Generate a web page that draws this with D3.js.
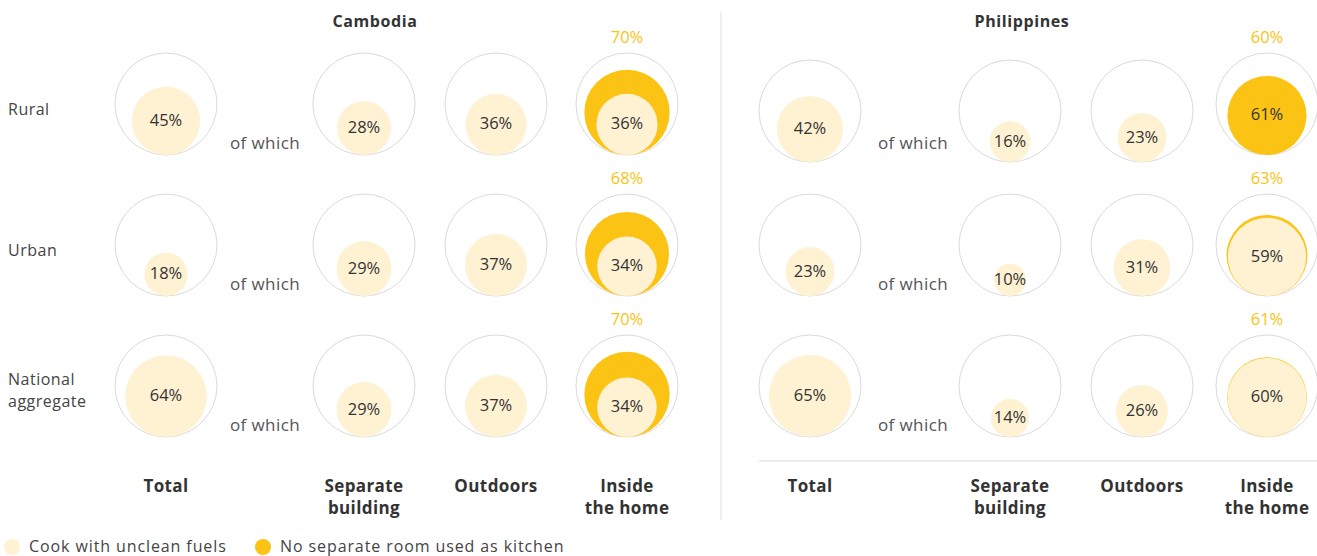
<!DOCTYPE html>
<html>
<head>
<meta charset="utf-8">
<script src="https://cdn.jsdelivr.net/npm/d3@7"></script>
<style>
  html, body { margin: 0; padding: 0; background: #fff; }
  svg { display: block; font-family: "Open Sans", "Noto Sans", sans-serif; }
</style>
</head>
<body>
<svg id="chart" width="1317" height="556"></svg>
<script>
// Share of households cooking with unclean fuels, by where cooking takes place
const rows = ["Rural", "Urban", "National aggregate"];
const columns = ["Total", "Separate building", "Outdoors", "Inside the home"];

const cambodiaTotal    = [45, 18, 64];
const cambodiaSeparate = [28, 29, 29];
const cambodiaOutdoors = [36, 37, 37];
const cambodiaInside   = [36, 34, 34];
const cambodiaNoRoom   = [70, 68, 70];

const philippinesTotal    = [42, 23, 65];
const philippinesSeparate = [16, 10, 14];
const philippinesOutdoors = [23, 31, 26];
const philippinesInside   = [61, 59, 60];
const philippinesNoRoom   = [60, 63, 61];

const legendItems = ["Cook with unclean fuels", "No separate room used as kitchen"];

const CREAM = "#fff2d3";
const YELLOW = "#fbc313";
const TEXT = "#333333";

const panels = [
  { name: "Cambodia", titleX: 375, colX: [166, 364, 496, 627], ofWhichX: 265,
    values: [cambodiaTotal, cambodiaSeparate, cambodiaOutdoors, cambodiaInside],
    noRoom: cambodiaNoRoom, firstRowShift: 0, baseline: false },
  { name: "Philippines", titleX: 1022, colX: [810, 1010, 1142, 1267], ofWhichX: 913,
    values: [philippinesTotal, philippinesSeparate, philippinesOutdoors, philippinesInside],
    noRoom: philippinesNoRoom, firstRowShift: 7, baseline: true }
];

const svg = d3.select("#chart");
const R = 51;
const r = d3.scaleSqrt().domain([0, 100]).range([0, R]);
const rowY = d3.scalePoint().domain(rows).range([104, 386]);
const fmt = v => v + "%";

// divider between the two countries
svg.append("line")
  .attr("x1", 721).attr("x2", 721).attr("y1", 12).attr("y2", 520)
  .attr("stroke", "#ebebeb").attr("stroke-width", 1.5);

// row labels
rows.forEach(row => {
  const words = row === "National aggregate" ? ["National", "aggregate"] : [row];
  const t = svg.append("text")
    .attr("x", 8)
    .attr("y", words.length > 1 ? rowY(row) - 1 : rowY(row) + 11)
    .attr("fill", "#444").style("font-size", "16px").style("letter-spacing", "0.5px");
  words.forEach((w, i) => {
    t.append("tspan").attr("x", 8).attr("dy", i === 0 ? 0 : 22).text(w);
  });
});

panels.forEach(p => {
  const g = svg.append("g");

  g.append("text")
    .attr("x", p.titleX).attr("y", 27)
    .attr("text-anchor", "middle")
    .attr("fill", TEXT).style("font-size", "16px").style("font-weight", 700)
    .style("letter-spacing", "0.6px")
    .text(p.name);

  rows.forEach((row, ri) => {
    const baseY = rowY(row);

    g.append("text")
      .attr("x", p.ofWhichX).attr("y", baseY + 45)
      .attr("text-anchor", "middle")
      .attr("fill", "#555").style("font-size", "17px").style("letter-spacing", "0.4px")
      .text("of which");

    columns.forEach((col, ci) => {
      const isInside = ci === 3;
      const cy = baseY + (ri === 0 && !isInside ? p.firstRowShift : 0);
      const cx = p.colX[ci];
      const bottom = cy + R;
      const v = p.values[ci][ri];

      g.append("circle")
        .attr("cx", cx).attr("cy", cy).attr("r", R)
        .attr("fill", "#fff").attr("stroke", "#dadada").attr("stroke-width", 1);

      const discs = [{ v: v, fill: CREAM }];
      if (isInside) discs.push({ v: p.noRoom[ri], fill: YELLOW });
      // larger disc underneath, smaller one on top
      discs.sort((a, b) => b.v - a.v);
      discs.forEach(d => {
        g.append("circle")
          .attr("cx", cx).attr("cy", bottom - r(d.v)).attr("r", r(d.v))
          .attr("fill", d.fill);
      });

      g.append("text")
        .attr("x", cx).attr("y", bottom - r(v) + 5)
        .attr("text-anchor", "middle")
        .attr("fill", TEXT).style("font-size", "16.5px")
        .text(fmt(v));

      if (isInside) {
        g.append("text")
          .attr("x", cx).attr("y", cy - R - 10)
          .attr("text-anchor", "middle")
          .attr("fill", YELLOW).style("font-size", "16.5px")
          .text(fmt(p.noRoom[ri]));
      }
    });
  });

  if (p.baseline) {
    g.append("line")
      .attr("x1", 759).attr("x2", 1317).attr("y1", 461).attr("y2", 461)
      .attr("stroke", "#e6e6e6").attr("stroke-width", 1.5);
  }

  // column headers
  columns.forEach((col, ci) => {
    const words = col === "Separate building" ? ["Separate", "building"]
                : col === "Inside the home" ? ["Inside", "the home"] : [col];
    const t = g.append("text")
      .attr("x", p.colX[ci]).attr("y", 492)
      .attr("text-anchor", "middle")
      .attr("fill", TEXT).style("font-size", "17px").style("font-weight", 700)
      .style("letter-spacing", "0.4px");
    words.forEach((w, i) => {
      t.append("tspan").attr("x", p.colX[ci]).attr("dy", i === 0 ? 0 : 22).text(w);
    });
  });
});

// legend
const legend = svg.append("g").attr("transform", "translate(0,547)");
const legendX = [12, 263];
const legendFill = [CREAM, YELLOW];
legendItems.forEach((label, i) => {
  legend.append("circle").attr("cx", legendX[i]).attr("cy", 0).attr("r", 8).attr("fill", legendFill[i]);
  legend.append("text").attr("x", legendX[i] + 17).attr("y", 5)
    .attr("fill", "#444").style("font-size", "16px").style("letter-spacing", "0.9px").text(label);
});
</script>
</body>
</html>
